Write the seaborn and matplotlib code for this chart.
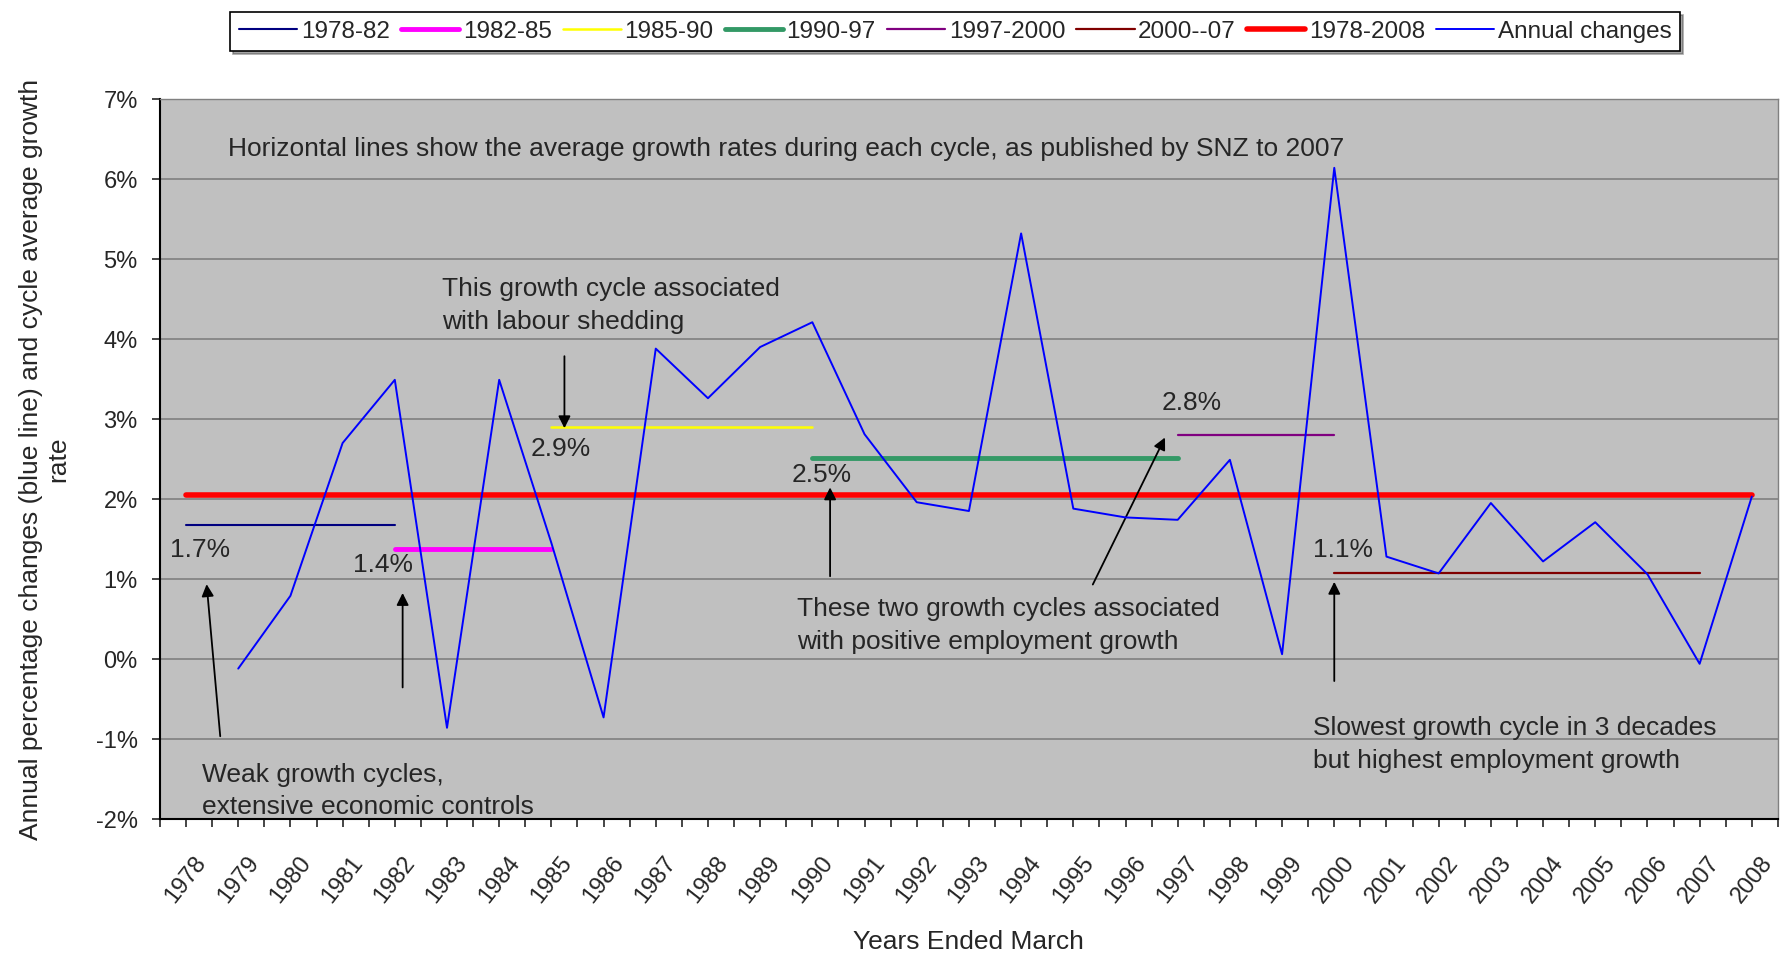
import seaborn as sns
import matplotlib.pyplot as plt
import pandas as pd
from matplotlib.ticker import FuncFormatter, MultipleLocator

# Annual percentage changes, years ended March
years = list(range(1979, 2009))
annual = [-0.12, 0.79, 2.70, 3.49, -0.86, 3.49, 1.45, -0.73, 3.88, 3.26,
          3.90, 4.21, 2.81, 1.96, 1.85, 5.32, 1.88, 1.77, 1.74, 2.49,
          0.06, 6.14, 1.28, 1.07, 1.95, 1.22, 1.71, 1.06, -0.06, 2.03]

# Cycle averages as published by SNZ
cycles = ["1978-82", "1982-85", "1985-90", "1990-97", "1997-2000", "2000--07", "1978-2008"]
cycle_start = [1978, 1982, 1985, 1990, 1997, 2000, 1978]
cycle_end = [1982, 1985, 1990, 1997, 2000, 2007, 2008]
cycle_avg = [1.68, 1.38, 2.90, 2.51, 2.80, 1.08, 2.05]
cycle_colors = ["#000080", "#FF00FF", "#FFFF00", "#339966", "#800080", "#800000", "#FF0000"]
cycle_widths = [1.5, 3.5, 1.8, 3.5, 1.6, 1.6, 4.0]

sns.set_style("white")
plt.rcParams['font.family'] = ['Liberation Sans', 'DejaVu Sans']

fig = plt.figure(figsize=(17.89, 9.56), dpi=100)
ax = fig.add_axes([0.0894, 0.1433, 0.9044, 0.7531])
ax.set_facecolor("#C0C0C0")

seg_rows = []
for name, s, e, v in zip(cycles, cycle_start, cycle_end, cycle_avg):
    seg_rows.append({"cycle": name, "year": s, "value": v})
    seg_rows.append({"cycle": name, "year": e, "value": v})
segs = pd.DataFrame(seg_rows)

for name, col, lw in zip(cycles, cycle_colors, cycle_widths):
    sns.lineplot(data=segs[segs["cycle"] == name], x="year", y="value",
                 color=col, linewidth=lw, ax=ax, label=name, zorder=3)

df = pd.DataFrame({"year": years, "change": annual})
sns.lineplot(data=df, x="year", y="change", color="#0000FF", linewidth=1.4,
             ax=ax, label="Annual changes", zorder=4)

ax.set_xlim(1977.5, 2008.5)
ax.set_ylim(-2, 7)
ax.yaxis.set_major_locator(MultipleLocator(1))
ax.yaxis.set_major_formatter(FuncFormatter(lambda v, p: f"{v:.0f}%"))
ax.grid(axis="y", color="#808080", linewidth=1.2)
ax.set_axisbelow(True)

ax.set_xticks(range(1978, 2009))
ax.set_xticklabels([str(y) for y in range(1978, 2009)], rotation=52,
                   ha="center", va="top", fontsize=17)
ax.xaxis.set_minor_locator(MultipleLocator(0.5))
ax.tick_params(axis="x", which="both", direction="out", length=6, width=1.2,
               bottom=True, pad=18)
ax.tick_params(axis="y", direction="out", length=6, width=1.2, left=True,
               labelsize=17, pad=10)

for side in ["left", "bottom"]:
    ax.spines[side].set_color("black")
    ax.spines[side].set_linewidth(1.5)
for side in ["top", "right"]:
    ax.spines[side].set_color("#808080")
    ax.spines[side].set_linewidth(1.0)

ax.set_xlabel("Years Ended March", fontsize=19, labelpad=16)
ax.set_ylabel("Annual percentage changes (blue line) and cycle average growth\nrate",
              fontsize=19, labelpad=18)

fs = 19
ax.text(1978.8, 6.38, "Horizontal lines show the average growth rates during each cycle, as published by SNZ to 2007",
        fontsize=fs, va="center")
ax.text(1982.9, 4.42, "This growth cycle associated\nwith labour shedding",
        fontsize=fs, va="center", linespacing=1.45)
ax.text(1989.7, 0.42, "These two growth cycles associated\nwith positive employment growth",
        fontsize=fs, va="center", linespacing=1.45)
ax.text(1999.6, -1.07, "Slowest growth cycle in 3 decades\nbut highest employment growth",
        fontsize=fs, va="center", linespacing=1.45)
ax.text(1978.3, -1.65, "Weak growth cycles,\nextensive economic controls",
        fontsize=fs, va="center", linespacing=1.45)

for x, y, t in [(1977.7, 1.36, "1.7%"), (1981.2, 1.18, "1.4%"), (1984.6, 2.62, "2.9%"),
                (1989.6, 2.3, "2.5%"), (1996.7, 3.2, "2.8%"), (1999.6, 1.36, "1.1%")]:
    ax.text(x, y, t, fontsize=fs, va="center")

arrows = [((1978.66, -1.0), (1978.39, 0.97)),
          ((1982.15, -0.39), (1982.15, 0.86)),
          ((1985.25, 3.82), (1985.25, 2.85)),
          ((1990.34, 1.0), (1990.34, 2.18)),
          ((1995.35, 0.9), (1996.78, 2.8)),
          ((2000.0, -0.31), (2000.0, 1.0))]
for start, end in arrows:
    ax.annotate("", xy=end, xytext=start,
                arrowprops=dict(arrowstyle="-|>", color="black", lw=1.3, mutation_scale=18))

handles, labels = ax.get_legend_handles_labels()
ax.get_legend().remove()
leg = fig.legend(handles, labels, loc="center", bbox_to_anchor=(0.534, 0.967),
                 ncol=8, fontsize=17.5, frameon=True, fancybox=False, shadow=True,
                 handlelength=2.4, handletextpad=0.15, columnspacing=0.45,
                 borderpad=0.35)
leg.get_frame().set_edgecolor("black")
leg.get_frame().set_linewidth(1.2)

fig.savefig("out.png", dpi=100)
